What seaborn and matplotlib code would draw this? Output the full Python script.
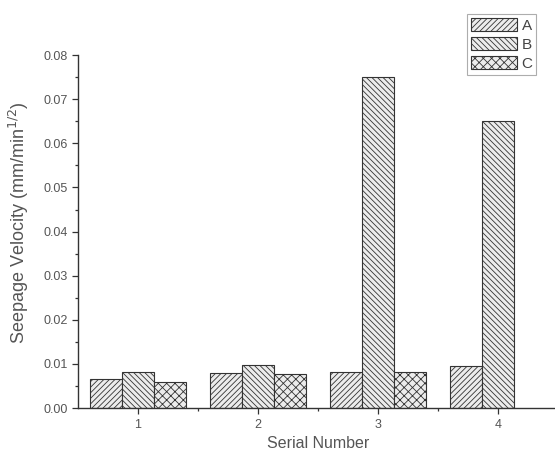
import pandas as pd
import numpy as np
import seaborn as sns
import matplotlib.pyplot as plt
from matplotlib.patches import Patch
from matplotlib.ticker import MultipleLocator, FixedLocator

serial = ['1', '2', '3', '4']
vel_a = [0.0066, 0.0079, 0.0082, 0.0095]
vel_b = [0.0082, 0.0097, 0.075, 0.065]
vel_c = [0.0059, 0.0077, 0.0082, np.nan]

groups = ['A', 'B', 'C']
hatches = ['//////', '\\\\\\\\\\\\', 'xxxx']

df = pd.DataFrame({
    'serial': serial * 3,
    'velocity': vel_a + vel_b + vel_c,
    'group': ['A'] * 4 + ['B'] * 4 + ['C'] * 4,
})

sns.set_style('ticks')
plt.rcParams['font.family'] = ['Liberation Sans', 'DejaVu Sans']
plt.rcParams['hatch.color'] = '#444444'
plt.rcParams['hatch.linewidth'] = 0.6

fig = plt.figure(figsize=(5.55, 4.57), dpi=100)
ax = fig.add_axes([0.1405, 0.107, 0.865, 0.7725])

sns.barplot(data=df, x='serial', y='velocity', hue='group', order=serial,
            hue_order=groups, width=0.8, palette=['#ececec'] * 3,
            edgecolor='#333333', linewidth=0.8, ax=ax, legend=False)

for cont, h in zip(ax.containers, hatches):
    for bar in cont:
        bar.set_hatch(h)

ax.set_xlim(-0.5, 3.5)
ax.set_ylim(0, 0.08)
ax.yaxis.set_major_locator(MultipleLocator(0.01))
ax.yaxis.set_minor_locator(MultipleLocator(0.005))
ax.yaxis.set_major_formatter(plt.FuncFormatter(lambda v, p: f'{v:.2f}'))
ax.xaxis.set_minor_locator(FixedLocator([0.5, 1.5, 2.5]))
ax.tick_params(which='major', length=4, width=0.9, labelsize=9, colors='#333333',
               labelcolor='#555555')
ax.tick_params(which='minor', length=2.5, width=0.9, colors='#333333')
for s in ['top', 'right']:
    ax.spines[s].set_visible(False)
for s in ['left', 'bottom']:
    ax.spines[s].set_color('#333333')
    ax.spines[s].set_linewidth(1.0)

ax.set_xlabel('Serial Number', fontsize=11.5, color='#555555', labelpad=4)
ax.set_ylabel('Seepage Velocity (mm/min$^{1/2}$)', fontsize=13, color='#555555')
ax.yaxis.set_label_coords(-0.097, 0.524)

handles = [Patch(facecolor='#ececec', edgecolor='#333333', hatch=h, linewidth=0.8, label=g)
           for g, h in zip(groups, hatches)]
leg = ax.legend(handles=handles, loc='upper right', bbox_to_anchor=(0.955, 1.116),
                fontsize=11, frameon=True, fancybox=False, handlelength=3.0,
                handleheight=0.9, handletextpad=0.3, borderpad=0.25, labelspacing=0.3,
                borderaxespad=0)
leg.get_frame().set_edgecolor('#999999')
leg.get_frame().set_linewidth(0.8)
for t in leg.get_texts():
    t.set_color('#444444')

fig.savefig('out.png', dpi=100)
